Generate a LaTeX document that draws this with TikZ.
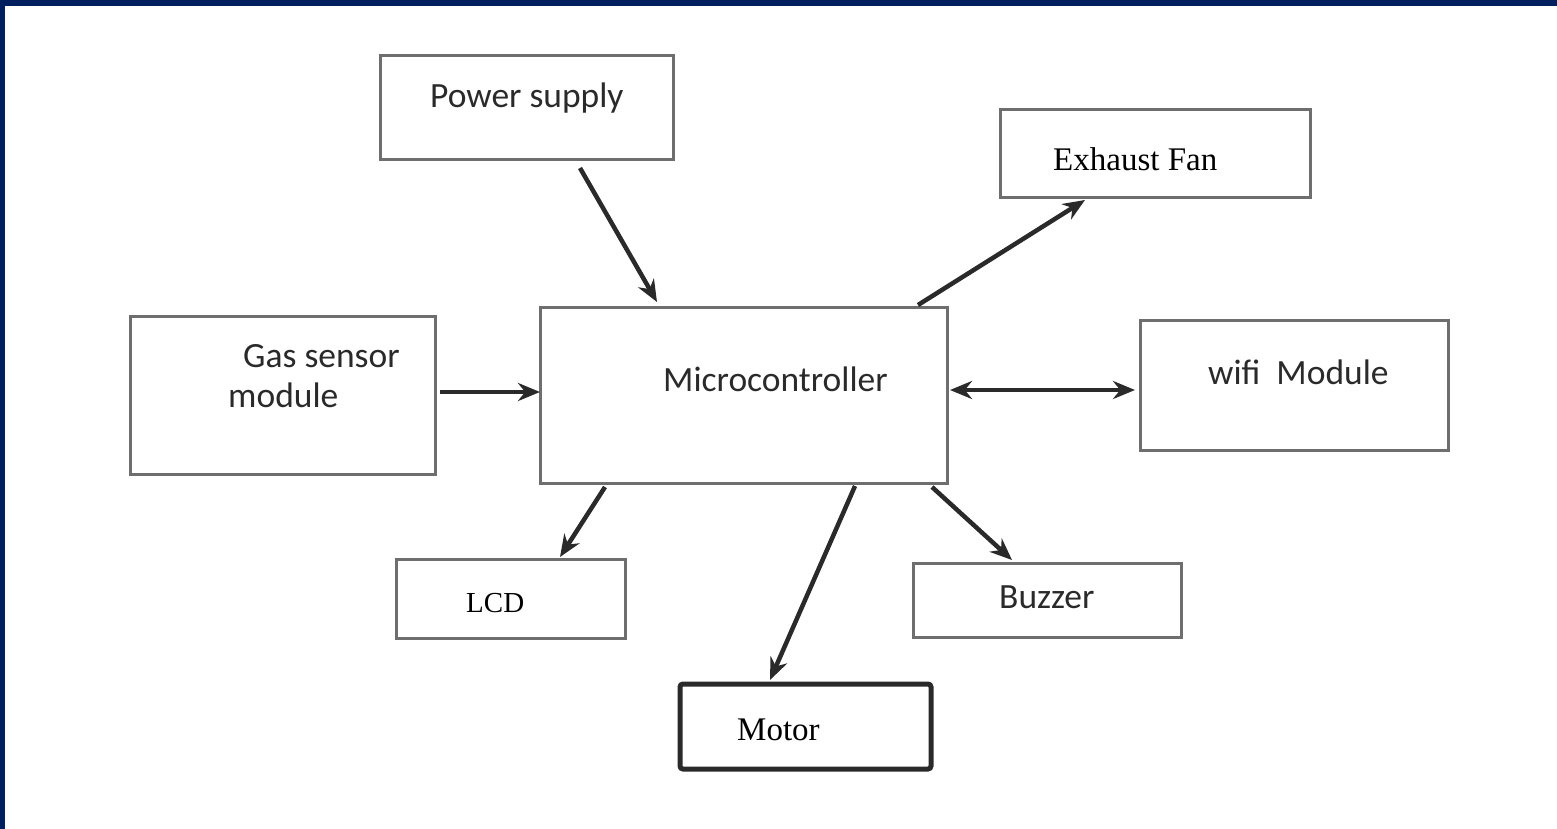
\documentclass[tikz,border=0pt]{standalone}
\usepackage{fontspec}
\setmainfont{Liberation Serif}
\setsansfont{Carlito}
\usetikzlibrary{arrows.meta}

\definecolor{framenavy}{HTML}{001F5F}
\definecolor{boxgray}{HTML}{6E6E6E}
\definecolor{inkgray}{HTML}{2A2A2A}

\begin{document}
\begin{tikzpicture}[x=1pt,y=-1pt,
    >={Stealth[length=22pt,width=18pt]},
    block/.style={draw=boxgray,line width=3pt,rectangle,inner sep=0pt,outer sep=0pt},
    sanstext/.style={anchor=base west,inner sep=0pt,text=inkgray,font=\sffamily\fontsize{35.5}{41}\selectfont},
    seriftext/.style={anchor=base west,inner sep=0pt,text=black,font=\rmfamily\fontsize{33}{40}\selectfont},
    link/.style={draw=inkgray,line width=4.5pt,->}]

    % page and frame
    \useasboundingbox (0,0) rectangle (1557,829);
    \fill[framenavy] (0,0) rectangle (1557,6);
    \fill[framenavy] (0,0) rectangle (5,829);

    % blocks
    \node (power)  at (526.5,108) [block,minimum width=293pt,minimum height=104pt] {};
    \node (fan)    at (1155,154)  [block,minimum width=310pt,minimum height=88pt] {};
    \node (gas)    at (282.5,395) [block,minimum width=305pt,minimum height=158pt] {};
    \node (micro)  at (743.5,395) [block,minimum width=407pt,minimum height=176pt] {};
    \node (wifi)   at (1294,385)  [block,minimum width=308pt,minimum height=130pt] {};
    \node (lcd)    at (510.5,598.5) [block,minimum width=229pt,minimum height=79pt] {};
    \node (buzzer) at (1047,600)  [block,minimum width=268pt,minimum height=74pt] {};
    \node (motor)  at (805.5,726.5) [block,draw=inkgray,line width=5pt,rounded corners=3pt,minimum width=251pt,minimum height=85pt] {};

    % texts
    \node (powerText)  at (430,108)  [sanstext] {Power supply};
    \node (fanText)    at (1053,171) [seriftext] {Exhaust Fan};
    \node (gasText)    at (243,367)  [sanstext] {Gas sensor};
    \node (gasText2)   at (228,407)  [sanstext] {module};
    \node (microText)  at (663,391)  [sanstext] {Microcontroller};
    \node (wifiText)   at (1208,384) [sanstext] {wifi\hspace{16pt}Module};
    \node (lcdText)    at (466,612)  [seriftext,font=\rmfamily\fontsize{29}{35}\selectfont] {LCD};
    \node (buzzerText) at (999,608)  [sanstext] {Buzzer};
    \node (motorText)  at (737,740)  [seriftext] {Motor};

    % connections
    \draw[link] ([xshift=53.5pt,yshift=-8pt]power.south) to ([xshift=-86.5pt,yshift=5pt]micro.north);
    \draw[link] ([xshift=174.5pt,yshift=2pt]micro.north) to ([xshift=-70pt,yshift=-2pt]fan.south);
    \draw[link] ([xshift=5pt,yshift=3pt]gas.east) to ([yshift=3pt]micro.west);
    \draw[link,<->] ([xshift=3pt,yshift=5pt]micro.east) to ([xshift=-5pt,yshift=-5pt]wifi.west);
    \draw[link] ([xshift=-138.5pt,yshift=-4pt]micro.south) to ([xshift=49.5pt,yshift=2pt]lcd.north);
    \draw[link] ([xshift=111.5pt,yshift=-3pt]micro.south) to ([xshift=-35.5pt,yshift=4pt]motor.north);
    \draw[link] ([xshift=188.5pt,yshift=-4pt]micro.south) to ([xshift=-35pt,yshift=3pt]buzzer.north);

\end{tikzpicture}
\end{document}
